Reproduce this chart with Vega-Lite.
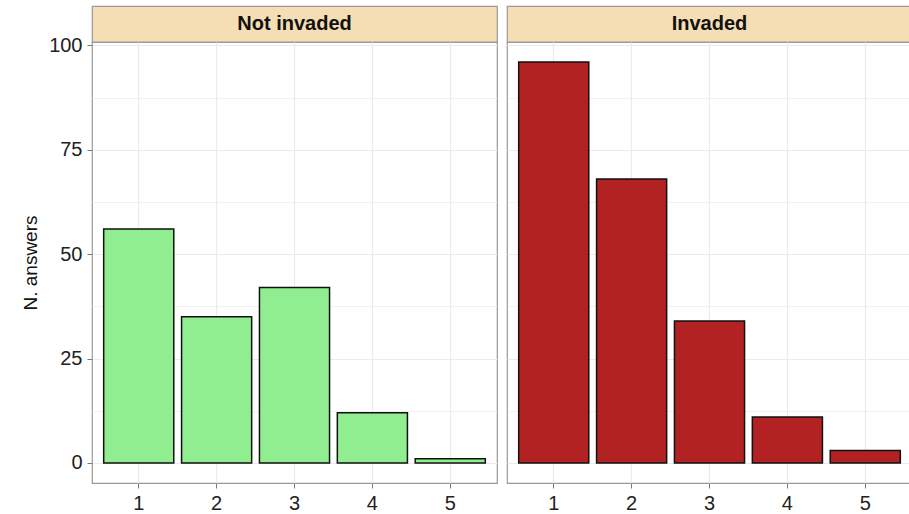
{
  "$schema": "https://vega.github.io/schema/vega-lite/v6.json",
  "padding": {"left": 21, "top": 5, "right": 0, "bottom": 0},
  "background": "white",
  "spacing": 8,
  "config": {
    "font": "Liberation Sans",
    "view": {"stroke": "#999999", "strokeWidth": 1.2}
  },
  "data": {
    "values": [
      {"panel": "Not invaded", "answer": "1", "n": 56},
      {"panel": "Not invaded", "answer": "2", "n": 35},
      {"panel": "Not invaded", "answer": "3", "n": 42},
      {"panel": "Not invaded", "answer": "4", "n": 12},
      {"panel": "Not invaded", "answer": "5", "n": 1},
      {"panel": "Invaded", "answer": "1", "n": 96},
      {"panel": "Invaded", "answer": "2", "n": 68},
      {"panel": "Invaded", "answer": "3", "n": 34},
      {"panel": "Invaded", "answer": "4", "n": 11},
      {"panel": "Invaded", "answer": "5", "n": 3}
    ]
  },
  "hconcat": [
    {
      "spacing": 0,
      "bounds": "flush",
      "vconcat": [
        {
          "width": 405,
          "height": 36,
          "view": {"fill": "#F5DEB3", "stroke": "#999999", "strokeWidth": 1.2},
          "transform": [
            {"filter": "datum.panel === 'Not invaded'"},
            {"aggregate": [{"op": "count", "as": "k"}], "groupby": ["panel"]}
          ],
          "mark": {"type": "text", "fontSize": 20, "fontWeight": "bold", "color": "#111111", "baseline": "middle", "align": "center"},
          "encoding": {"text": {"field": "panel", "type": "nominal"}}
        },
        {
          "width": 405,
          "height": 441,
          "transform": [{"filter": "datum.panel === 'Not invaded'"}],
          "mark": {"type": "bar", "fill": "#90EE90", "stroke": "#111111", "strokeWidth": 1.5},
          "encoding": {
            "x": {
              "field": "answer", "type": "ordinal",
              "scale": {"paddingInner": 0.1, "paddingOuter": 0.15},
              "axis": {
                "title": null, "labelAngle": 0, "labelFontSize": 20, "labelColor": "#222222",
                "tickSize": 5, "tickColor": "#777777", "labelPadding": 5, "domain": false,
                "grid": true, "gridColor": "#EBEBEB", "gridWidth": 1.2, "bandPosition": 0.5
              }
            },
            "y": {
              "field": "n", "type": "quantitative",
              "scale": {"domain": [-4.8, 100.8], "nice": false, "zero": false},
              "axis": {
                "title": "N. answers", "titleFontSize": 19, "titleFontWeight": "normal", "titleColor": "#111111", "titlePadding": 8,
                "values": [0, 12.5, 25, 37.5, 50, 62.5, 75, 87.5, 100],
                "labelExpr": "datum.value % 25 === 0 ? datum.label : ''",
                "labelFontSize": 20, "labelColor": "#222222", "labelPadding": 5,
                "tickSize": 5, "tickColor": "#777777",
                "tickOpacity": {"condition": {"test": "datum.value % 25 === 0", "value": 1}, "value": 0},
                "domain": false, "grid": true, "gridColor": "#EBEBEB",
                "gridWidth": {"condition": {"test": "datum.value % 25 === 0", "value": 1.2}, "value": 0.7}
              }
            },
            "y2": {"datum": 0}
          }
        }
      ]
    },
    {
      "spacing": 0,
      "bounds": "flush",
      "vconcat": [
        {
          "width": 405,
          "height": 36,
          "view": {"fill": "#F5DEB3", "stroke": "#999999", "strokeWidth": 1.2},
          "transform": [
            {"filter": "datum.panel === 'Invaded'"},
            {"aggregate": [{"op": "count", "as": "k"}], "groupby": ["panel"]}
          ],
          "mark": {"type": "text", "fontSize": 20, "fontWeight": "bold", "color": "#111111", "baseline": "middle", "align": "center"},
          "encoding": {"text": {"field": "panel", "type": "nominal"}}
        },
        {
          "width": 405,
          "height": 441,
          "transform": [{"filter": "datum.panel === 'Invaded'"}],
          "mark": {"type": "bar", "fill": "#B22222", "stroke": "#111111", "strokeWidth": 1.5},
          "encoding": {
            "x": {
              "field": "answer", "type": "ordinal",
              "scale": {"paddingInner": 0.1, "paddingOuter": 0.15},
              "axis": {
                "title": null, "labelAngle": 0, "labelFontSize": 20, "labelColor": "#222222",
                "tickSize": 5, "tickColor": "#777777", "labelPadding": 5, "domain": false,
                "grid": true, "gridColor": "#EBEBEB", "gridWidth": 1.2, "bandPosition": 0.5
              }
            },
            "y": {
              "field": "n", "type": "quantitative",
              "scale": {"domain": [-4.8, 100.8], "nice": false, "zero": false},
              "axis": {
                "title": null, "labels": false, "ticks": false,
                "values": [0, 12.5, 25, 37.5, 50, 62.5, 75, 87.5, 100],
                "domain": false, "grid": true, "gridColor": "#EBEBEB",
                "gridWidth": {"condition": {"test": "datum.value % 25 === 0", "value": 1.2}, "value": 0.7}
              }
            },
            "y2": {"datum": 0}
          }
        }
      ]
    }
  ]
}
